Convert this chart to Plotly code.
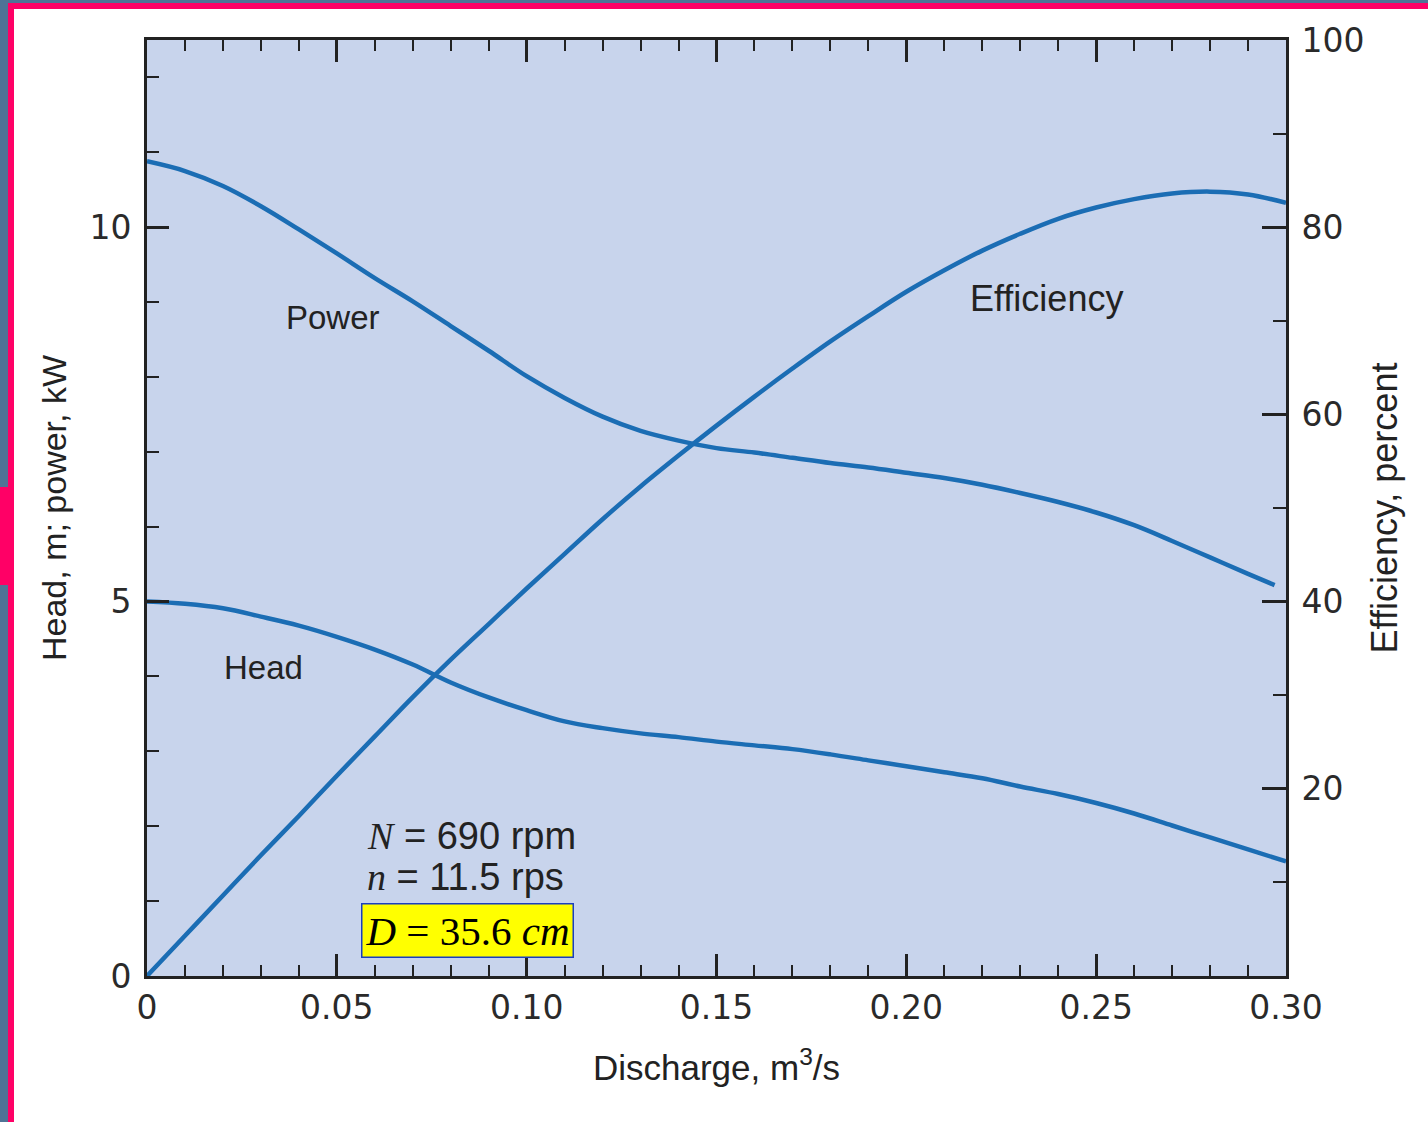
import plotly.graph_objects as go

# ---------------- data ----------------
discharge = [0.00, 0.01, 0.02, 0.03, 0.04, 0.05, 0.06, 0.07, 0.08, 0.09,
             0.10, 0.11, 0.12, 0.13, 0.14, 0.15, 0.16, 0.17, 0.18, 0.19,
             0.20, 0.21, 0.22, 0.23, 0.24, 0.25, 0.26, 0.27, 0.28, 0.29, 0.30]

head_m = [5.00, 4.97, 4.91, 4.80, 4.68, 4.53, 4.36, 4.16, 3.92, 3.72,
          3.55, 3.40, 3.31, 3.24, 3.19, 3.13, 3.08, 3.03, 2.96, 2.88,
          2.80, 2.72, 2.64, 2.53, 2.43, 2.31, 2.17, 2.01, 1.85, 1.69, 1.53]

power_discharge = [0.00, 0.01, 0.02, 0.03, 0.04, 0.05, 0.06, 0.07, 0.08, 0.09,
                   0.10, 0.11, 0.12, 0.13, 0.14, 0.15, 0.16, 0.17, 0.18, 0.19,
                   0.20, 0.21, 0.22, 0.23, 0.24, 0.25, 0.26, 0.27, 0.28, 0.29, 0.297]
power_kw = [10.88, 10.75, 10.55, 10.28, 9.97, 9.65, 9.32, 9.01, 8.68, 8.35,
            8.01, 7.72, 7.47, 7.28, 7.15, 7.05, 6.99, 6.92, 6.85, 6.79,
            6.72, 6.65, 6.56, 6.45, 6.33, 6.19, 6.02, 5.81, 5.59, 5.37, 5.22]

efficiency_pct = [0.0, 4.3, 8.6, 12.9, 17.1, 21.4, 25.6, 29.8, 33.8, 37.6,
                  41.4, 45.1, 48.8, 52.3, 55.6, 58.8, 61.9, 64.9, 67.8, 70.5,
                  73.1, 75.4, 77.5, 79.3, 80.9, 82.1, 83.0, 83.6, 83.8, 83.5, 82.6]

x_tick_vals = [0, 0.05, 0.10, 0.15, 0.20, 0.25, 0.30]
x_tick_text = ["0", "0.05", "0.10", "0.15", "0.20", "0.25", "0.30"]
y_left_ticks = [0, 5, 10]
y_right_ticks = [20, 40, 60, 80, 100]

# ---------------- styling ----------------
W, H = 1428, 1122
ML, MR, MT, MB = 147, 142, 40, 146
PW, PH = W - ML - MR, H - MT - MB
CURVE = "#1b6db4"
INK = "#222222"
SANS = "Liberation Sans, Arial, sans-serif"
TICKFONT = "DejaVu Sans, sans-serif"
SERIF = "Liberation Serif, Times New Roman, serif"


def px_x(p):
    return (p - ML) / PW


def px_y(p):
    return (H - MB - p) / PH


fig = go.Figure()
fig.add_trace(go.Scatter(x=power_discharge, y=power_kw, mode="lines", name="Power",
                         line=dict(color=CURVE, width=4.5, shape="spline"),
                         showlegend=False))
fig.add_trace(go.Scatter(x=discharge, y=head_m, mode="lines", name="Head",
                         line=dict(color=CURVE, width=4.5, shape="spline"),
                         showlegend=False))
fig.add_trace(go.Scatter(x=discharge, y=efficiency_pct, mode="lines", name="Efficiency",
                         yaxis="y2", line=dict(color=CURVE, width=4.5, shape="spline"),
                         showlegend=False))

axis_common = dict(showgrid=False, zeroline=False, showline=True, linecolor=INK,
                   linewidth=3, ticks="inside", tickcolor=INK,
                   tickfont=dict(family=TICKFONT, size=33, color="#2a2a2a"))

fig.update_layout(
    width=W, height=H, autosize=False,
    margin=dict(l=ML, r=MR, t=MT, b=MB),
    paper_bgcolor="white", plot_bgcolor="#c8d4ec",
    xaxis=dict(range=[0, 0.30], tickvals=x_tick_vals, ticktext=x_tick_text,
               ticklen=22, tickwidth=3, mirror="ticks",
               minor=dict(dtick=0.01, tick0=0, ticks="inside", ticklen=11,
                          tickwidth=2, tickcolor=INK),
               title=dict(text="Discharge, m<sup>3</sup>/s",
                          font=dict(family=SANS, size=35, color=INK), standoff=30),
               **axis_common),
    yaxis=dict(range=[0, 12.5], tickvals=y_left_ticks, ticklen=22, tickwidth=3,
               ticklabelstandoff=6,
               minor=dict(dtick=1, tick0=0, ticks="inside", ticklen=12,
                          tickwidth=2, tickcolor=INK),
               title=dict(text="Head, m; power, kW",
                          font=dict(family=SANS, size=34, color=INK), standoff=13),
               **axis_common),
    yaxis2=dict(range=[0, 100], tickvals=y_right_ticks, overlaying="y", side="right",
                ticklen=24, tickwidth=3, ticklabelstandoff=6,
                minor=dict(dtick=10, tick0=0, ticks="inside", ticklen=13,
                           tickwidth=2, tickcolor=INK),
                title=dict(text="Efficiency, percent",
                           font=dict(family=SANS, size=36, color=INK), standoff=9),
                **axis_common),
)

label_font = dict(family=SANS, size=33, color=INK)
fig.add_annotation(x=0.049, y=8.79, text="Power", showarrow=False, font=label_font)
fig.add_annotation(x=0.0308, y=4.12, text="Head", showarrow=False, font=label_font)
fig.add_annotation(x=0.237, y=9.05, text="Efficiency", showarrow=False,
                   font=dict(family=SANS, size=36, color=INK))

param_font = dict(family=SANS, size=38, color=INK)
fig.add_annotation(x=0.0575, y=1.87, xanchor="left", showarrow=False,
                   text=f"<span style='font-family:{SERIF}'><i>N</i></span> = 690 rpm",
                   font=param_font)
fig.add_annotation(x=0.0575, y=1.32, xanchor="left", showarrow=False,
                   text=f"<span style='font-family:{SERIF}'><i>n</i></span> = 11.5 rps",
                   font=param_font)
fig.add_annotation(x=0.0845, y=0.613, showarrow=False,
                   text="<i>D</i> = 35.6 <i>cm</i>",
                   font=dict(family=SERIF, size=41, color="black"),
                   bgcolor="#ffff00", bordercolor="#1a3fc0", borderwidth=1.5,
                   borderpad=3)

# decorative slide frame (blue-grey strip + magenta rule) around the figure
frame = [
    ("#4f7396", 0, 0, W, 3),
    ("#4f7396", 0, 0, 8, H),
    ("#ff0066", 8, 3, W, 9),
    ("#ff0066", 8, 3, 14, H),
    ("#ff0066", 0, 487, 8, 585),
]
for color, x0, y0, x1, y1 in frame:
    fig.add_shape(type="rect", xref="paper", yref="paper",
                  x0=px_x(x0), x1=px_x(x1), y0=px_y(y0), y1=px_y(y1),
                  fillcolor=color, line=dict(width=0), layer="above")

fig.write_html("out.html")
